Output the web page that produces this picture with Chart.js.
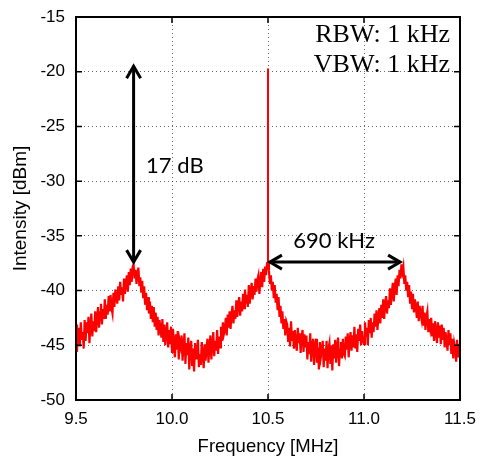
<!DOCTYPE html>
<html>
<head>
<meta charset="utf-8">
<script src="https://cdn.jsdelivr.net/npm/chart.js@4/dist/chart.umd.min.js"></script>
<style>
  html, body { margin: 0; padding: 0; background: #fff; }
  #wrap { width: 481px; height: 459px; }
</style>
</head>
<body>
<div id="wrap"><canvas id="spectrum" width="481" height="459"></canvas></div>
<script>
// sweep: 9.5 .. 11.5 MHz, one sample every 5 kHz
const freqStart = 9.5;
const freqStep = 0.005;

// trace (dBm), 10 samples per row = 50 kHz
const levelDbm = [
  -43.1, -45.6, -44.0, -43.4, -45.1, -42.9, -44.5, -43.8, -45.3, -42.7,
  -44.6, -42.9, -43.9, -42.4, -44.8, -43.2, -42.1, -44.2, -42.8, -43.7,
  -41.9, -43.8, -42.4, -41.5, -43.4, -42.0, -41.2, -43.1, -41.7, -42.6,
  -40.8, -42.6, -41.3, -42.2, -40.5, -41.9, -40.4, -41.6, -42.1, -40.2,
  -41.5, -39.9, -40.6, -41.2, -39.6, -40.9, -39.2, -40.4, -39.7, -41.0,
  -38.9, -40.3, -39.4, -38.6, -40.1, -38.3, -39.5, -38.0, -39.2, -37.8,
  -37.6, -38.9, -38.1, -39.4, -38.5, -37.9, -39.6, -38.8, -40.2, -39.1,
  -40.7, -39.6, -41.3, -40.2, -41.8, -40.6, -42.1, -41.0, -42.6, -41.4,
  -42.9, -41.5, -43.3, -42.0, -43.6, -42.4, -44.1, -42.7, -43.5, -44.3,
  -42.6, -44.7, -43.1, -45.0, -43.8, -42.9, -45.2, -43.6, -44.9, -43.3,
  -45.6, -43.5, -44.8, -46.1, -44.0, -45.4, -43.7, -46.3, -44.6, -45.1,
  -44.1, -46.4, -45.0, -43.9, -46.7, -44.8, -45.9, -44.3, -47.2, -45.2,
  -44.6, -46.9, -45.3, -47.4, -44.8, -46.2, -45.6, -44.5, -47.0, -45.8,
  -46.8, -44.7, -45.9, -47.1, -44.9, -46.4, -45.2, -44.4, -46.6, -45.0,
  -44.1, -46.3, -45.0, -43.8, -46.0, -44.6, -45.5, -43.6, -45.8, -44.2,
  -45.2, -43.3, -44.6, -42.9, -44.0, -43.6, -42.5, -44.1, -42.2, -43.4,
  -41.9, -43.5, -42.2, -41.4, -43.0, -41.8, -42.6, -40.9, -42.4, -41.2,
  -40.6, -42.3, -41.0, -41.9, -40.3, -41.6, -39.9, -41.2, -40.4, -41.5,
  -39.5, -41.2, -40.0, -39.3, -40.8, -39.6, -40.4, -38.9, -40.1, -39.0,
  -38.6, -40.3, -39.1, -38.3, -39.7, -38.0, -39.2, -37.8, -38.6, -37.5,
  -37.4, -38.2, -39.4, -38.6, -40.0, -39.2, -40.7, -39.5, -41.1, -40.3,
  -41.8, -40.6, -42.4, -41.4, -43.0, -41.9, -43.5, -42.6, -44.1, -42.8,
  -43.1, -44.7, -43.4, -45.1, -42.8, -44.5, -43.7, -45.3, -43.6, -44.9,
  -45.5, -43.4, -44.8, -43.9, -45.7, -44.2, -43.6, -45.6, -44.0, -45.2,
  -44.1, -46.3, -44.7, -45.8, -43.9, -46.5, -45.0, -44.4, -46.8, -45.1,
  -44.4, -46.6, -45.2, -47.2, -44.7, -46.1, -45.5, -44.6, -47.0, -45.3,
  -46.4, -44.6, -47.1, -45.3, -44.8, -46.7, -45.0, -47.3, -44.9, -46.2,
  -44.5, -46.6, -45.1, -44.3, -46.9, -45.4, -44.7, -46.2, -44.4, -45.8,
  -46.0, -44.2, -45.4, -43.9, -46.1, -44.6, -43.8, -45.5, -44.1, -45.2,
  -43.3, -45.3, -44.0, -45.6, -43.5, -44.6, -43.1, -45.0, -43.7, -44.5,
  -44.9, -42.9, -44.2, -43.4, -45.0, -42.7, -43.9, -42.5, -44.3, -42.9,
  -43.8, -42.1, -43.3, -41.8, -43.6, -42.4, -41.6, -43.0, -41.3, -42.5,
  -40.8, -42.6, -41.2, -40.5, -42.1, -40.9, -41.6, -39.8, -41.3, -40.2,
  -39.3, -41.0, -39.7, -38.9, -40.4, -38.6, -39.6, -38.1, -38.9, -37.6,
  -38.3, -37.8, -39.4, -38.6, -40.0, -39.2, -40.6, -39.5, -41.2, -40.1,
  -41.6, -40.3, -42.0, -40.8, -41.5, -42.5, -41.0, -42.8, -41.4, -42.2,
  -42.7, -41.4, -43.2, -42.0, -43.6, -42.4, -41.9, -43.8, -42.6, -43.4,
  -42.5, -44.2, -43.0, -44.6, -42.8, -43.7, -44.8, -42.9, -44.3, -43.2,
  -44.9, -43.1, -44.5, -43.4, -45.2, -43.8, -44.6, -45.5, -43.6, -45.0,
  -43.9, -45.8, -44.4, -46.2, -44.8, -45.3, -46.5, -44.5, -46.1, -45.2,
  -45.4
];

// carrier spike at 10.5 MHz
const spikeFreq = [10.5, 10.5];
const spikeDbm = [-37.6, -19.7];

const xTicks = [9.5, 10, 10.5, 11, 11.5];
const yTicks = [-50, -45, -40, -35, -30, -25, -20, -15];

// annotations (data units)
const dbArrow = { x: 9.8, from: -19.5, to: -37.4 };
const khzArrow = { y: -37.4, from: 10.51, to: 11.188 };
const dbLabel = { text: '17 dB', x: 9.865, y: -29.25 };
const khzLabel = { text: '690 kHz', x: 10.844, y: -36.1 };
const bwLabels = [
  { text: 'RBW: 1 kHz', x: 11.448, y: -17.26 },
  { text: 'VBW: 1 kHz', x: 11.448, y: -20.0 }
];

const tracePoints = levelDbm.map((v, i) => ({ x: freqStart + i * freqStep, y: v }));
const spikePoints = spikeFreq.map((f, i) => ({ x: f, y: spikeDbm[i] }));

function drawArrow(ctx, x1, y1, x2, y2) {
  const ang = Math.atan2(y2 - y1, x2 - x1);
  const head = (px, py, a) => {
    ctx.beginPath();
    ctx.moveTo(px - 12 * Math.cos(a) + 7 * Math.sin(a), py - 12 * Math.sin(a) - 7 * Math.cos(a));
    ctx.lineTo(px, py);
    ctx.lineTo(px - 12 * Math.cos(a) - 7 * Math.sin(a), py - 12 * Math.sin(a) + 7 * Math.cos(a));
    ctx.stroke();
  };
  ctx.beginPath();
  ctx.moveTo(x1, y1);
  ctx.lineTo(x2, y2);
  ctx.stroke();
  head(x2, y2, ang);
  head(x1, y1, ang + Math.PI);
}

// keep the plot box where the layout padding puts it
function noScalePadding(s) {
  s.paddingTop = 0; s.paddingBottom = 0; s.paddingLeft = 0; s.paddingRight = 0;
}

const overlay = {
  id: 'overlay',
  afterDatasetsDraw(chart) {
    const { ctx, chartArea: a, scales: { x, y } } = chart;
    ctx.save();
    ctx.strokeStyle = '#000';

    // inward tick marks on all four sides
    ctx.lineWidth = 1.5;
    ctx.beginPath();
    xTicks.forEach(v => {
      const px = x.getPixelForValue(v);
      ctx.moveTo(px, a.bottom); ctx.lineTo(px, a.bottom - 6);
      ctx.moveTo(px, a.top); ctx.lineTo(px, a.top + 6);
    });
    yTicks.forEach(v => {
      const py = y.getPixelForValue(v);
      ctx.moveTo(a.left, py); ctx.lineTo(a.left + 6, py);
      ctx.moveTo(a.right, py); ctx.lineTo(a.right - 6, py);
    });
    ctx.stroke();

    // frame
    ctx.lineWidth = 2;
    ctx.strokeRect(a.left, a.top, a.right - a.left, a.bottom - a.top);

    // arrows
    ctx.lineWidth = 3;
    drawArrow(ctx, x.getPixelForValue(dbArrow.x), y.getPixelForValue(dbArrow.from),
              x.getPixelForValue(dbArrow.x), y.getPixelForValue(dbArrow.to));
    drawArrow(ctx, x.getPixelForValue(khzArrow.from), y.getPixelForValue(khzArrow.y),
              x.getPixelForValue(khzArrow.to), y.getPixelForValue(khzArrow.y));

    // text
    ctx.fillStyle = '#000';
    ctx.textBaseline = 'alphabetic';
    ctx.font = '22px Lato';
    ctx.textAlign = 'left';
    ctx.fillText(dbLabel.text, x.getPixelForValue(dbLabel.x), y.getPixelForValue(dbLabel.y));
    ctx.textAlign = 'center';
    ctx.fillText(khzLabel.text, x.getPixelForValue(khzLabel.x), y.getPixelForValue(khzLabel.y));
    ctx.font = '26px "Liberation Serif"';
    ctx.textAlign = 'right';
    bwLabels.forEach(l => ctx.fillText(l.text, x.getPixelForValue(l.x), y.getPixelForValue(l.y)));
    ctx.restore();
  }
};

new Chart(document.getElementById('spectrum'), {
  type: 'line',
  data: {
    datasets: [
      { data: tracePoints, borderColor: '#ff0000', borderWidth: 2.2, pointRadius: 0, tension: 0, fill: false },
      { data: spikePoints, borderColor: '#ff0000', borderWidth: 2, pointRadius: 0, tension: 0, fill: false }
    ]
  },
  options: {
    responsive: false,
    animation: false,
    devicePixelRatio: 1,
    layout: { padding: { left: 0, right: 21, top: 17, bottom: 0 } },
    plugins: { legend: { display: false }, tooltip: { enabled: false } },
    scales: {
      x: {
        type: 'linear',
        min: 9.5,
        max: 11.5,
        afterBuildTicks: s => { s.ticks = xTicks.map(v => ({ value: v })); },
        afterFit: s => { s.height = 59; noScalePadding(s); },
        ticks: { color: '#000', padding: 9, font: { family: '"Liberation Sans"', size: 17 } },
        grid: { color: 'rgba(0,0,0,0.6)', lineWidth: 1, drawTicks: false },
        border: { display: false, dash: [1, 3] },
        title: { display: true, text: 'Frequency [MHz]', color: '#000',
                 padding: { top: 0, bottom: 1 }, font: { family: '"Liberation Sans"', size: 18.5 } }
      },
      y: {
        min: -50,
        max: -15,
        afterBuildTicks: s => { s.ticks = yTicks.map(v => ({ value: v })); },
        afterFit: s => { s.width = 76; noScalePadding(s); },
        ticks: { color: '#000', padding: 11, font: { family: '"Liberation Sans"', size: 17 } },
        grid: { color: 'rgba(0,0,0,0.6)', lineWidth: 1, drawTicks: false },
        border: { display: false, dash: [1, 3] },
        title: { display: true, text: 'Intensity [dBm]', color: '#000',
                 padding: { top: 9, bottom: 0 }, font: { family: '"Liberation Sans"', size: 19 } }
      }
    }
  },
  plugins: [overlay]
});
</script>
</body>
</html>
